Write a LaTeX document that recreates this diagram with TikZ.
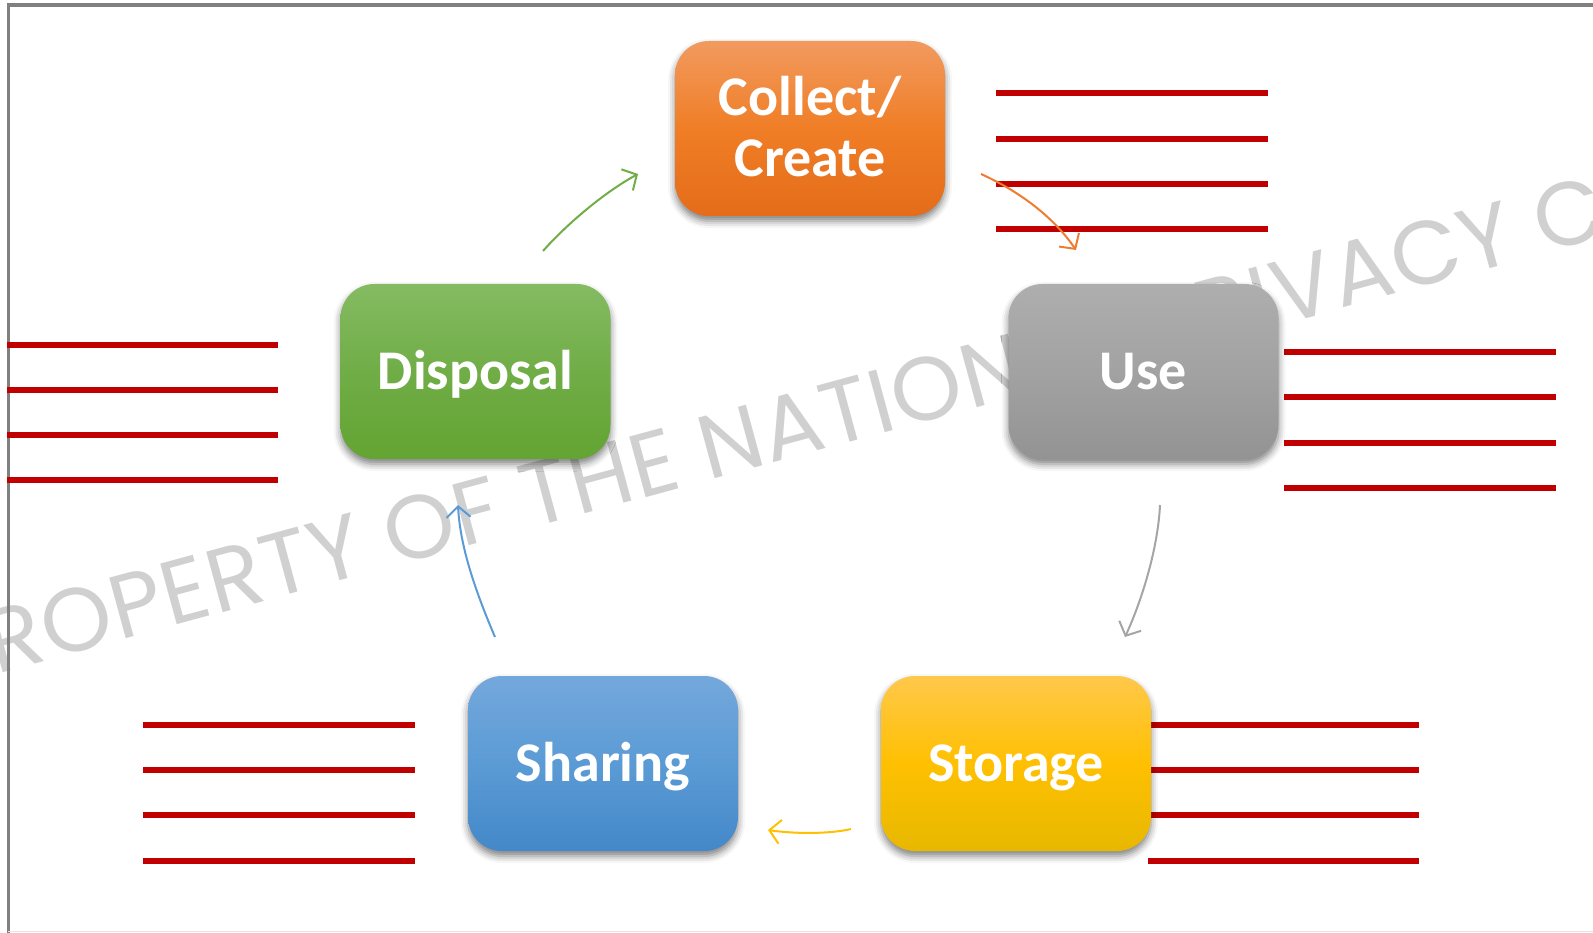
\documentclass[tikz,border=0pt]{standalone}
\usepackage{fontspec}
\newfontfamily\boxfont{Carlito}
\newfontfamily\wmfont{Poppins}[LetterSpace=1.2]
\usetikzlibrary{arrows.meta,shadows.blur}

\definecolor{redline}{HTML}{C00000}
\definecolor{framegray}{HTML}{808080}
\definecolor{wmgray}{HTML}{D0D0D0}
\definecolor{orangeT}{HTML}{F19A5F}
\definecolor{orangeM}{HTML}{F07E26}
\definecolor{orangeB}{HTML}{E46C1A}
\definecolor{grayT}{HTML}{AEAEAE}
\definecolor{grayM}{HTML}{A2A2A2}
\definecolor{grayB}{HTML}{939393}
\definecolor{greenT}{HTML}{85BB62}
\definecolor{greenM}{HTML}{70AD47}
\definecolor{greenB}{HTML}{63A432}
\definecolor{blueT}{HTML}{74A8DC}
\definecolor{blueM}{HTML}{5B9BD5}
\definecolor{blueB}{HTML}{4488C9}
\definecolor{yellowT}{HTML}{FFC84B}
\definecolor{yellowM}{HTML}{FFC001}
\definecolor{yellowB}{HTML}{E7B800}
\definecolor{arrOrange}{HTML}{ED7D31}
\definecolor{arrGray}{HTML}{A5A5A5}
\definecolor{arrGreen}{HTML}{70AD47}
\definecolor{arrYellow}{HTML}{FFC000}
\definecolor{arrBlue}{HTML}{5B9BD5}

\begin{document}
\begin{tikzpicture}[x=1pt,y=-1pt,
  stage/.style={rounded corners=34pt, minimum width=270pt, minimum height=175pt,
    inner sep=0pt, text=white, align=center,
    font=\boxfont\bfseries\fontsize{56}{61}\selectfont,
    text height=36pt, text depth=0pt,
    blur shadow={shadow xshift=0pt, shadow yshift=-5pt, shadow blur radius=7pt, shadow opacity=50}},
  tint/.style n args={3}{top color=#1, bottom color=#3, middle color=#2},
  rule/.style={draw=redline, line width=6pt},
  cyc/.style={line width=2pt, -{Straight Barb[length=11pt,width=24pt]}},
  wm/.style={text=wmgray, font=\wmfont\fontsize{90}{90}\selectfont, inner sep=0pt}
]
\useasboundingbox (0,0) rectangle (1593,933);

% watermark across the sheet
\begin{scope}
  \clip (0,0) rectangle (1593,933);
  \node[wm, anchor=base west, rotate=15.2] (mark) at (-55,688)
    {PROPERTY OF THE NATIONAL PRIVACY COMMISSION};
\end{scope}

% sheet frame
\draw[framegray, line width=3.5pt] (8.5,933) -- (8.5,5) -- (1593,5);
\draw[black!10, line width=1.5pt] (8,931.5) -- (1593,931.5);

% writing lines beside each stage
\foreach \y in {93.5,139,184,229.5} \draw[rule] (996,\y) -- (1268,\y);
\foreach \y in {351.5,397,443,488} \draw[rule] (1284,\y) -- (1556,\y);
\foreach \y in {344.5,389.5,435,480} \draw[rule] (7,\y) -- (278,\y);
\foreach \y in {725,770,815,861} \draw[rule] (143,\y) -- (415,\y);
\foreach \y in {725,770,815} \draw[rule] (1151,\y) -- (1419,\y);
\draw[rule] (1148,861) -- (1419,861);

% stages of the life cycle
\node[stage, tint={orangeT}{orangeM}{orangeB}, text height=97pt] (collect) at (810,128.5) {Collect/\\Create};
\node[stage, tint={grayT}{grayM}{grayB}] (use) at (1143.5,371.5) {Use};
\node[stage, tint={greenT}{greenM}{greenB}] (disposal) at (475.5,371.5) {Disposal};
\node[stage, tint={blueT}{blueM}{blueB}] (sharing) at (603,763.5) {Sharing};
\node[stage, tint={yellowT}{yellowM}{yellowB}] (storage) at (1016,763.5) {Storage};

% cycle arrows between the stages
\coordinate (g1) at (543,251);  \coordinate (g2) at (638,174);
\coordinate (o1) at (981,174);  \coordinate (o2) at (1076,250);
\coordinate (s1) at (1160,505); \coordinate (s2) at (1125,637);
\coordinate (y1) at (851,829);  \coordinate (y2) at (768,830);
\coordinate (b1) at (495,637);  \coordinate (b2) at (458,505);

\draw[cyc, arrGreen]  (g1) .. controls (565,226) and (603,193) .. (g2);
\draw[cyc, arrOrange] (o1) .. controls (1012,188) and (1050,212) .. (o2);
\draw[cyc, arrGray]   (s1) .. controls (1158,548) and (1142,600) .. (s2);
\draw[cyc, arrYellow] (y1) .. controls (830,834) and (795,834) .. (y2);
\draw[cyc, arrBlue]   (b1) .. controls (474,588) and (460,545) .. (b2);
\end{tikzpicture}
\end{document}
